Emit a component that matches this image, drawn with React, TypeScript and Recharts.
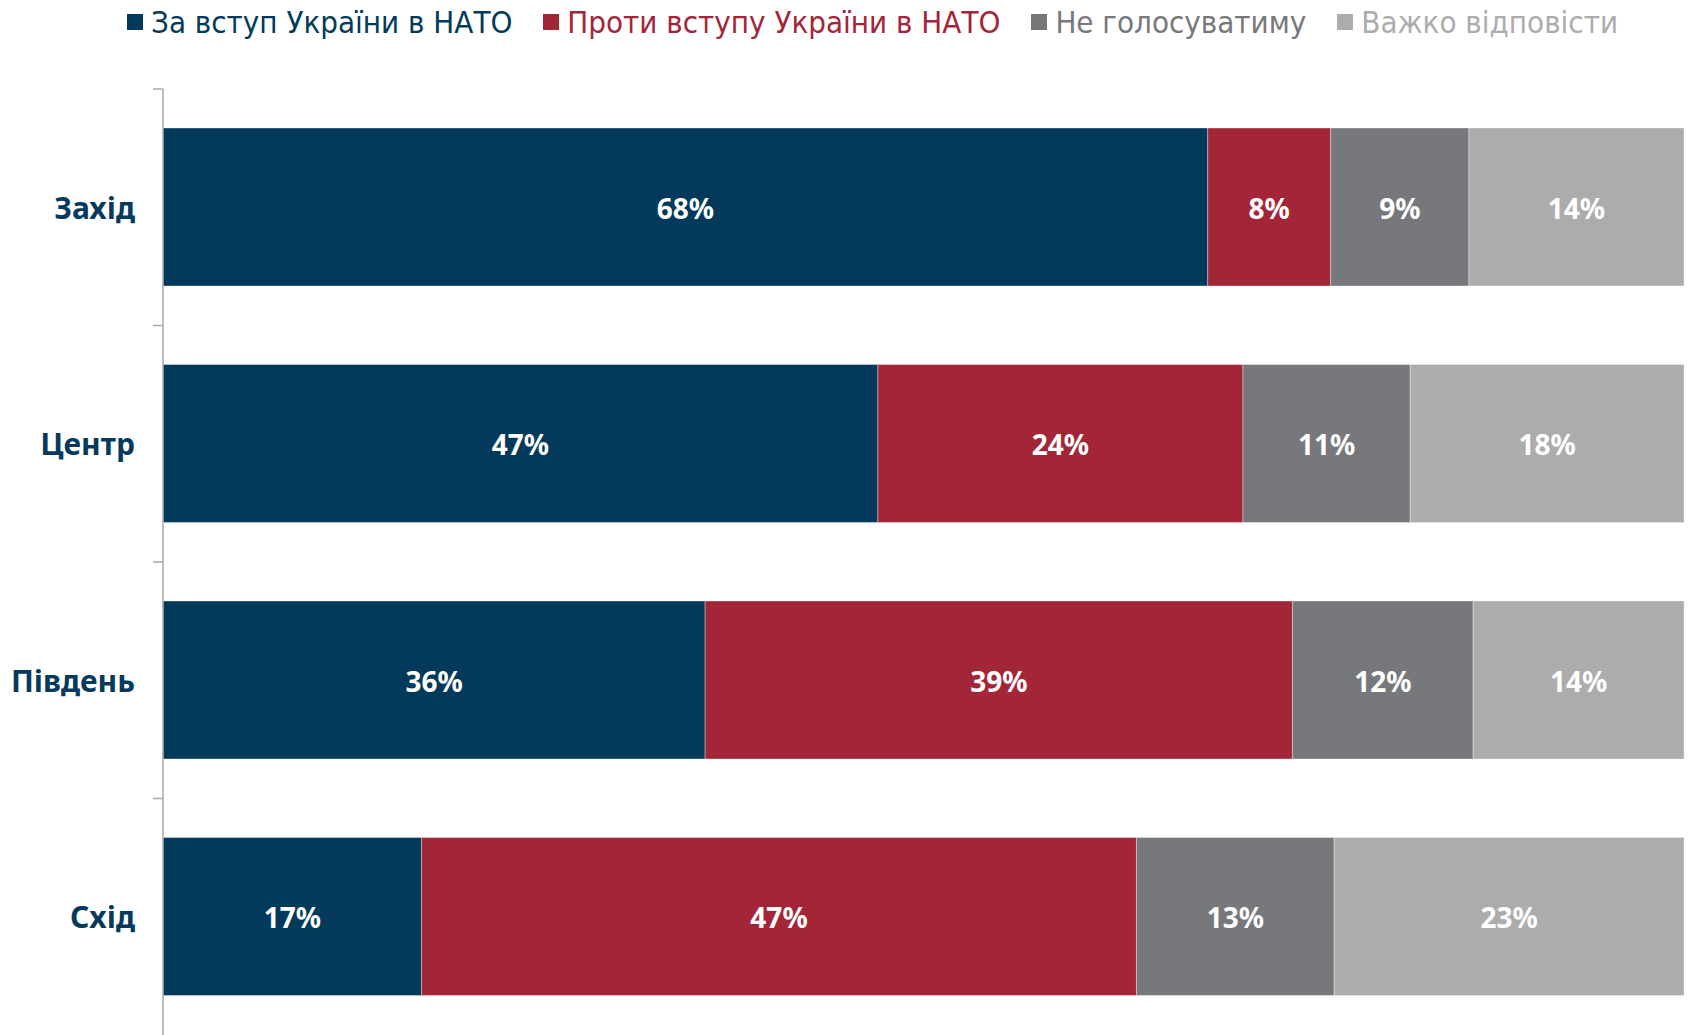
import React from "react";
import { BarChart, Bar, XAxis, YAxis, Legend, LabelList } from "recharts";

const categories = ["Захід", "Центр", "Південь", "Схід"];
const zaValues = [68, 47, 36, 17];
const protyValues = [8, 24, 39, 47];
const neValues = [9, 11, 12, 13];
const vazhkoValues = [14, 18, 14, 23];

const seriesNames = [
  "За вступ України в НАТО",
  "Проти вступу України в НАТО",
  "Не голосуватиму",
  "Важко відповісти",
];
const seriesKeys = ["za", "proty", "ne", "vazhko"];
const seriesColors = ["#033a5b", "#a32638", "#77787b", "#acacad"];

const data = categories.map((c, i) => ({
  name: c,
  za: zaValues[i],
  proty: protyValues[i],
  ne: neValues[i],
  vazhko: vazhkoValues[i],
}));

const W = 1688;
const H = 1035;
const LEGEND_H = 89;
const Y_AXIS_W = 163;
const TICK_MARGIN = 28;
const BAND = (H - LEGEND_H) / categories.length;

const CategoryTick = (props: any) => {
  const { x, y, payload } = props;
  const axisX = x + TICK_MARGIN;
  const top = y - BAND / 2;
  return (
    <g>
      <line x1={axisX - 10} y1={top} x2={axisX} y2={top} stroke="#a6a9ad" strokeWidth={1.5} />
      <text
        x={x}
        y={y}
        textAnchor="end"
        dominantBaseline="central"
        fill="#053a5c"
        fontFamily="'Noto Sans', sans-serif"
        fontWeight={700}
        fontSize={30}
      >
        {payload.value}
      </text>
    </g>
  );
};

const LegendContent = () => (
  <div
    style={{
      display: "flex",
      alignItems: "center",
      paddingLeft: 127,
      height: 43,
      fontFamily: "'DejaVu Sans Condensed', 'Noto Sans', sans-serif",
      fontSize: 31,
    }}
  >
    {seriesNames.map((n, i) => (
      <div key={n} style={{ display: "flex", alignItems: "center", marginRight: 31 }}>
        <span
          style={{
            display: "inline-block",
            width: 16,
            height: 16,
            background: seriesColors[i],
            marginRight: 8,
          }}
        />
        <span style={{ color: seriesColors[i], whiteSpace: "nowrap" }}>{n}</span>
      </div>
    ))}
  </div>
);

export default function App() {
  return (
    <div style={{ position: "absolute", left: 0, top: 0, width: W, height: H, background: "#fff" }}>
      <BarChart
        width={W}
        height={H}
        data={data}
        layout="vertical"
        stackOffset="expand"
        margin={{ top: 0, right: 4, bottom: 0, left: 0 }}
        barSize={158}
      >
        <Legend
          verticalAlign="top"
          content={<LegendContent />}
          wrapperStyle={{ top: 0, left: 0, width: W, height: LEGEND_H }}
        />
        <XAxis type="number" hide domain={[0, 1]} />
        <YAxis
          type="category"
          dataKey="name"
          width={Y_AXIS_W}
          axisLine={{ stroke: "#a6a9ad", strokeWidth: 1.5 }}
          tickLine={false}
          tickSize={0}
          tickMargin={TICK_MARGIN}
          tick={<CategoryTick />}
          interval={0}
        />
        {seriesKeys.map((k, i) => (
          <Bar
            key={k}
            dataKey={k}
            name={seriesNames[i]}
            stackId="a"
            fill={seriesColors[i]}
            stroke="#ffffff"
            strokeOpacity={0.35}
            strokeWidth={1}
            isAnimationActive={false}
          >
            <LabelList
              dataKey={k}
              position="center"
              formatter={(v: any) => `${v}%`}
              fill="#ffffff"
              fontFamily="'Noto Sans', sans-serif"
              fontWeight={700}
              fontSize={28}
              dy={2}
            />
          </Bar>
        ))}
      </BarChart>
    </div>
  );
}
